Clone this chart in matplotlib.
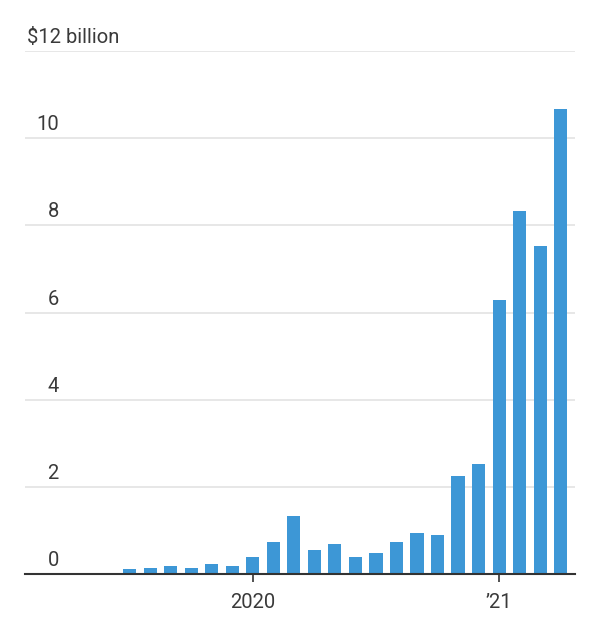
import matplotlib
matplotlib.use('Agg')
import matplotlib.pyplot as plt
import numpy as np

# monthly values, Jul 2019 - Apr 2021, $ billion
months = ['2019-07', '2019-08', '2019-09', '2019-10', '2019-11', '2019-12',
          '2020-01', '2020-02', '2020-03', '2020-04', '2020-05', '2020-06',
          '2020-07', '2020-08', '2020-09', '2020-10', '2020-11', '2020-12',
          '2021-01', '2021-02', '2021-03', '2021-04']
values = [0.11, 0.14, 0.19, 0.14, 0.24, 0.19,
          0.40, 0.74, 1.32, 0.56, 0.69, 0.40,
          0.49, 0.74, 0.95, 0.90, 2.26, 2.52,
          6.29, 8.32, 7.52, 10.66]
tick_months = ['2020-01', '2021-01']
tick_labels = ['2020', '\u201921']
y_ticks = [0, 2, 4, 6, 8, 10, 12]
y_labels = ['0', '2', '4', '6', '8', '10', '$12 billion']

plt.rcParams['font.family'] = ['Roboto', 'DejaVu Sans']
text_color = '#3a3a3a'

fig = plt.figure(figsize=(5.94, 6.2), dpi=100)
ax = fig.add_axes([0.0421, 0.0742, 0.926, 0.8435])

x = np.arange(len(months))
ax.bar(x, values, width=0.64, color='#3d97d6', zorder=3)

ax.set_xlim(-5.1, 21.7)
ax.set_ylim(0, 12)

# gridlines with labels sitting on top of them
for yv, lab in zip(y_ticks, y_labels):
    if yv > 0:
        ax.axhline(yv, color='#e3e3e3', linewidth=1.2, zorder=1)
    ax.text(-3.45 if yv < 12 else -5.0, yv + 0.09, lab,
            ha='right' if yv < 12 else 'left', va='bottom',
            fontsize=14.5, color=text_color)

ax.set_yticks([])
tick_pos = [months.index(m) for m in tick_months]
ax.set_xticks(tick_pos)
ax.set_xticklabels(tick_labels, fontsize=14.5, color=text_color)
ax.tick_params(axis='x', length=6, width=1.2, color='#333333', pad=8)

for s in ['top', 'right', 'left']:
    ax.spines[s].set_visible(False)
ax.spines['bottom'].set_color('#333333')
ax.spines['bottom'].set_linewidth(1.5)
ax.spines['bottom'].set_zorder(4)

plt.savefig('out.png', dpi=100)
